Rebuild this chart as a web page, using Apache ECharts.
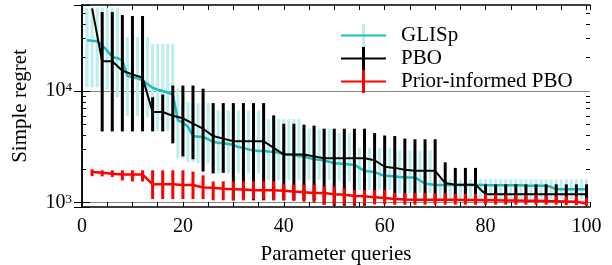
<!DOCTYPE html>
<html>
<head>
<meta charset="utf-8">
<script src="https://cdn.jsdelivr.net/npm/echarts@6/dist/echarts.min.js"></script>
<style>
  html, body { margin: 0; padding: 0; background: #fff; }
  #chart { width: 612px; height: 265px; }
</style>
</head>
<body>
<div id="chart"></div>
<script>
// query index of each point
const glispX = Array.from({ length: 100 }, (_, i) => i + 1)
const pboX = Array.from({ length: 50 }, (_, i) => 2 * (i + 1))

// GLISp (every query)
const glispMean = [
  28500, 28200, 28000, 25700, 23000, 20200, 19700, 18800, 13700, 13300,
  13000, 12500, 11500, 10700, 10300, 10000, 9700, 9300, 5500, 5200,
  4800, 3950, 3900, 3900, 3700, 3500, 3450, 3400, 3350, 3300,
  3150, 3100, 3000, 2950, 2900, 2900, 2870, 2850, 2800, 2720,
  2700, 2680, 2620, 2580, 2520, 2450, 2430, 2380, 2330, 2250,
  2240, 2220, 2200, 2200, 2050, 1920, 1900, 1880, 1800, 1740,
  1730, 1720, 1700, 1680, 1680, 1680, 1580, 1480, 1460, 1440,
  1440, 1440, 1440, 1440, 1440, 1440, 1440, 1440, 1440, 1440,
  1430, 1430, 1430, 1430, 1430, 1430, 1430, 1420, 1420, 1420,
  1420, 1420, 1380, 1320, 1320, 1320, 1320, 1320, 1320, 1320
]
const glispHigh = [
  56000, 56000, 56000, 56000, 56000, 56000, 56000, 30500, 30500, 30500,
  30500, 30500, 30500, 26500, 26500, 26500, 26500, 26500, 10500, 10500,
  8000, 8000, 7800, 7800, 7800, 6700, 6700, 6700, 6700, 6700,
  6700, 6700, 6700, 6700, 6700, 6700, 5600, 5600, 5600, 5600,
  5600, 5600, 5600, 4600, 4600, 4600, 4600, 4600, 4600, 4600,
  4200, 4200, 4200, 4200, 3100, 3100, 3100, 3100, 3100, 3100,
  3100, 3100, 2940, 2940, 2940, 2940, 2940, 2940, 2940, 1620,
  1620, 1620, 1620, 1620, 1620, 1620, 1620, 1620, 1620, 1620,
  1620, 1620, 1620, 1620, 1620, 1620, 1620, 1620, 1620, 1620,
  1620, 1620, 1620, 1620, 1620, 1620, 1620, 1620, 1620, 1620
]
const glispLow = [
  10800, 10800, 10800, 10500, 10200, 9500, 8800, 6000, 6000, 6000,
  6000, 5900, 5800, 4400, 4400, 4400, 4400, 4400, 2500, 2450,
  2300, 2300, 2250, 2250, 2250, 1830, 1830, 1830, 1830, 1830,
  1830, 1830, 1830, 1830, 1830, 1830, 1600, 1600, 1600, 1600,
  1600, 1600, 1600, 1600, 1600, 1600, 1600, 1600, 1600, 1600,
  1550, 1550, 1550, 1550, 1300, 1300, 1300, 1300, 1300, 1300,
  1300, 1300, 1220, 1220, 1220, 1220, 1220, 1220, 1220, 1080,
  1080, 1080, 1080, 1080, 1080, 1080, 1080, 1080, 1080, 1080,
  1080, 1080, 1080, 1080, 1080, 1080, 1080, 1080, 1080, 1080,
  1080, 1080, 1080, 1080, 1080, 1080, 1080, 1080, 1080, 1080
]

// PBO (every second query)
const pboMean = [
  55000, 18500, 18500, 15200, 14100, 13200, 6500, 6500, 6000, 5700,
  5100, 4600, 3950, 3750, 3550, 3550, 3550, 3550, 3100, 2700,
  2700, 2700, 2600, 2500, 2500, 2500, 2500, 2500, 2400, 2100,
  2050, 1970, 1930, 1930, 1930, 1500, 1450, 1450, 1450, 1190,
  1190, 1190, 1190, 1190, 1190, 1190, 1190, 1190, 1190, 1190
]
const pboHigh = [
  55000, 51000, 51000, 48000, 47000, 47000, 8800, 9300, 11200, 11200,
  11200, 10500, 7800, 7800, 7800, 7800, 7800, 7800, 6050, 5100,
  5100, 5000, 4900, 4600, 4600, 4600, 4600, 4600, 4200, 4000,
  3950, 3750, 3700, 3700, 3700, 2300, 2050, 2050, 2050, 1460,
  1460, 1460, 1460, 1460, 1460, 1460, 1460, 1460, 1460, 1460
]
const pboLow = [
  55000, 4350, 4350, 4350, 4350, 4350, 4350, 4350, 3400, 2600,
  2450, 1900, 1830, 1850, 1050, 1100, 1050, 1050, 1050, 1050,
  1050, 1050, 1050, 960, 940, 940, 940, 940, 1040, 1040,
  1040, 1040, 1040, 1040, 1040, 1030, 1030, 1030, 1030, 1010,
  1010, 1010, 1010, 1010, 1010, 1010, 1010, 1010, 1010, 1010
]

// Prior-informed PBO (every second query)
const priorMean = [
  1880, 1850, 1820, 1790, 1790, 1790, 1460, 1460, 1460, 1440,
  1440, 1370, 1360, 1330, 1320, 1310, 1290, 1290, 1290, 1280,
  1260, 1240, 1220, 1220, 1190, 1180, 1150, 1140, 1120, 1100,
  1080, 1070, 1065, 1060, 1060, 1060, 1060, 1055, 1055, 1050,
  1050, 1045, 1045, 1040, 1040, 1035, 1030, 1025, 1020, 985
]
const priorHigh = [
  1990, 1950, 1950, 1950, 1950, 1950, 1950, 1950, 1950, 1950,
  1900, 1760, 1550, 1550, 1550, 1550, 1560, 1560, 1560, 1460,
  1450, 1450, 1450, 1400, 1400, 1340, 1300, 1300, 1300, 1300,
  1220, 1220, 1220, 1220, 1210, 1210, 1200, 1200, 1200, 1190,
  1190, 1180, 1180, 1170, 1170, 1160, 1160, 1150, 1150, 1100
]
const priorLow = [
  1730, 1720, 1700, 1580, 1550, 1550, 1080, 1080, 1080, 1080,
  1080, 1080, 1050, 1050, 1050, 1050, 1070, 1070, 1060, 1050,
  1040, 1020, 1000, 965, 965, 965, 965, 965, 965, 965,
  960, 960, 960, 960, 960, 960, 960, 960, 960, 960,
  960, 960, 960, 960, 960, 960, 960, 950, 950, 940
]

const yMin = 915
const yMax = 59000
const xMax = 100.7

const font = 'Liberation Serif'

// log minor ticks (2..9 x 10^n), placed on a helper axis in log10 space
const minorTicks = []
for (let n = 2; n <= 5; n++) {
  for (let k = 2; k <= 9; k++) {
    const v = k * Math.pow(10, n)
    if (v > yMin && v < yMax) minorTicks.push(Math.log10(v))
  }
}

const pairs = (xs, ys) => xs.map((x, i) => [x, ys[i]])

const errorBars = (name, xs, lows, highs, color, width, z) => ({
  type: 'custom',
  name: name,
  clip: true,
  z: z,
  silent: true,
  data: xs.map((x, i) => [x, lows[i], highs[i]]),
  encode: { x: 0, y: [1, 2] },
  renderItem: (params, api) => {
    const lo = api.coord([api.value(0), api.value(1)])
    const hi = api.coord([api.value(0), api.value(2)])
    return {
      type: 'line',
      shape: { x1: lo[0], y1: lo[1], x2: hi[0], y2: hi[1] },
      style: { stroke: color, lineWidth: width }
    }
  }
})

const lineSeries = (name, xs, ys, color, width, z) => ({
  type: 'line',
  name: name,
  z: z,
  silent: true,
  showSymbol: false,
  data: pairs(xs, ys),
  lineStyle: { color: color, width: width },
  itemStyle: { color: color }
})

const teal = '#1cbcbc'
const lightCyan = '#bdeded'

// legend icons: a horizontal stroke, a vertical bar, and both together
const hLineIcon = 'path://M0,0L0.01,0Z M0,23L0.01,23Z M0,10.5L45,10.5L45,12.5L0,12.5Z'
const vBarIcon = 'path://M0,0L0.01,0Z M45,23L45,22.99Z M21,0L24,0L24,23L21,23Z'
const plusIcon = 'path://M0,0L0.01,0Z M45,23L45,22.99Z M0,10.5L45,10.5L45,12.5L0,12.5Z M21.5,0L24,0L24,23L21.5,23Z'

const legendBase = {
  orient: 'vertical', left: 336, top: 19, itemGap: 0,
  itemWidth: 45, itemHeight: 23, selectedMode: false
}

const xAxisBase = {
  type: 'value',
  min: 0,
  max: xMax,
  interval: 5,
  axisLine: { show: true, lineStyle: { color: '#000', width: 1.5 } },
  axisTick: { show: true, inside: true, length: 5, lineStyle: { color: '#000' } },
  splitLine: { show: false }
}

const option = {
  animation: false,
  grid: { left: 82, right: 22, top: 5, bottom: 58, containLabel: false, outerBoundsMode: 'none' },
  legend: [
    Object.assign({}, legendBase, {
      z: 10,
      formatter: () => '',
      textStyle: { fontFamily: font, fontSize: 21 },
      data: [
        { name: 'GLISp', icon: vBarIcon, itemStyle: { color: lightCyan, borderWidth: 0 } },
        { name: 'PBO', icon: vBarIcon, itemStyle: { color: '#000', borderWidth: 0 } },
        { name: 'Prior-informed PBO', icon: vBarIcon, itemStyle: { color: '#ff0000', borderWidth: 0 } }
      ]
    }),
    Object.assign({}, legendBase, {
      z: 11,
      textStyle: { fontFamily: font, fontSize: 21, color: '#000', padding: [0, 0, 0, 10] },
      data: [
        { name: 'GLISp', icon: hLineIcon, itemStyle: { color: teal, borderWidth: 0 } },
        { name: 'PBO', icon: plusIcon, itemStyle: { color: '#000', borderWidth: 0 } },
        { name: 'Prior-informed PBO', icon: plusIcon, itemStyle: { color: '#ff0000', borderWidth: 0 } }
      ]
    })
  ],
  xAxis: [
    Object.assign({}, xAxisBase, {
      position: 'bottom',
      name: 'Parameter queries',
      nameLocation: 'middle',
      nameGap: 37,
      nameTextStyle: { fontFamily: font, fontSize: 21, color: '#000' },
      axisLabel: {
        show: true, margin: 10, fontFamily: font, fontSize: 20, color: '#000',
        formatter: v => (Math.abs(v % 20) < 1e-6 ? String(v) : '')
      }
    }),
    Object.assign({}, xAxisBase, { position: 'top', axisLabel: { show: false } })
  ],
  yAxis: [
    {
      type: 'log',
      logBase: 10,
      position: 'left',
      min: yMin,
      max: yMax,
      name: 'Simple regret',
      nameLocation: 'middle',
      nameGap: 51,
      nameTextStyle: { fontFamily: font, fontSize: 21, color: '#000' },
      axisLine: { show: true, lineStyle: { color: '#000', width: 1.5 } },
      axisTick: { show: true, inside: true, length: 8, lineStyle: { color: '#000' } },
      splitLine: { show: true, showMinLine: false, showMaxLine: false, lineStyle: { color: '#888', width: 1 } },
      axisLabel: {
        show: true, margin: 10, fontFamily: font, fontSize: 20, color: '#000',
        formatter: v => {
          const e = Math.log10(v)
          const r = Math.round(e)
          return Math.abs(e - r) < 1e-6 ? '10{s|' + r + '}' : ''
        },
        rich: { s: { fontFamily: font, fontSize: 13, color: '#000', verticalAlign: 'top' } }
      }
    },
    {
      type: 'log',
      logBase: 10,
      position: 'right',
      min: yMin,
      max: yMax,
      axisLine: { show: true, lineStyle: { color: '#000', width: 1.5 } },
      axisTick: { show: true, inside: true, length: 8, lineStyle: { color: '#000' } },
      splitLine: { show: false },
      axisLabel: { show: false }
    },
    {
      type: 'value',
      position: 'left',
      min: Math.log10(yMin),
      max: Math.log10(yMax),
      axisLine: { show: false },
      axisTick: { show: true, inside: true, length: 4, customValues: minorTicks, lineStyle: { color: '#000' } },
      splitLine: { show: false },
      axisLabel: { show: false }
    },
    {
      type: 'value',
      position: 'right',
      min: Math.log10(yMin),
      max: Math.log10(yMax),
      axisLine: { show: false },
      axisTick: { show: true, inside: true, length: 4, customValues: minorTicks, lineStyle: { color: '#000' } },
      splitLine: { show: false },
      axisLabel: { show: false }
    }
  ],
  series: [
    errorBars('GLISp', glispX, glispLow, glispHigh, lightCyan, 3, 2),
    lineSeries('GLISp', glispX, glispMean, teal, 2.5, 3),
    errorBars('PBO', pboX, pboLow, pboHigh, '#000', 3, 4),
    lineSeries('PBO', pboX, pboMean, '#000', 2, 5),
    errorBars('Prior-informed PBO', pboX, priorLow, priorHigh, '#ff0000', 3, 6),
    lineSeries('Prior-informed PBO', pboX, priorMean, '#ff0000', 2.5, 7)
  ]
}

const chart = echarts.init(document.getElementById('chart'))
chart.setOption(option)
</script>
</body>
</html>
